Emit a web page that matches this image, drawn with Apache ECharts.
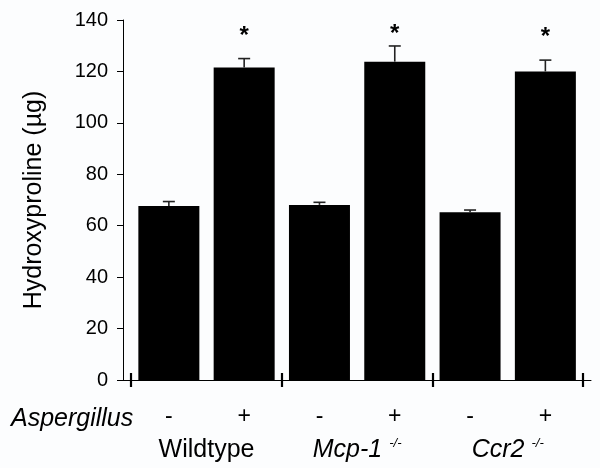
<!DOCTYPE html>
<html>
<head>
<meta charset="utf-8">
<script src="https://cdn.jsdelivr.net/npm/echarts@6/dist/echarts.min.js"></script>
<style>
html,body{margin:0;padding:0;background:#fcfdfe;}
#chart{width:600px;height:468px;}
</style>
</head>
<body>
<div id="chart"></div>
<script>
// ---- data ----
var groups = ['Wildtype', 'Mcp-1', 'Ccr2'];
var groupItalic = [false, true, true];
var groupSuper = ['', '-/-', '-/-'];
var treatments = ['-', '+'];
var barPositions = [0.5, 1.5, 2.5, 3.5, 4.5, 5.5];
var means = [67.7, 121.5, 68.1, 123.8, 65.2, 120.0];
var errors = [1.7, 3.5, 1.0, 6.1, 0.9, 4.4];
var starPositions = [1.5, 3.5, 5.5];
var starValues = [136.5, 137.3, 136.1];
var yTicks = [0, 20, 40, 60, 80, 100, 120, 140];
var groupBoundaries = [0, 2, 4, 6];
var groupCenters = [1, 3, 5];

var FONT = '"Liberation Sans", Arial, Helvetica, sans-serif';

var barData = barPositions.map(function (x, i) { return [x, means[i]]; });
var errData = barPositions.map(function (x, i) { return [x, means[i], errors[i]]; });
var starData = starPositions.map(function (x, i) { return [x, starValues[i]]; });

var chart = echarts.init(document.getElementById('chart'), null, {renderer: 'canvas'});

var xMin = -0.109, xMax = 6.106;

var option = {
  backgroundColor: '#fcfdfe',
  animation: false,
  grid: {left: 123, right: 9, top: 20, bottom: 88, containLabel: false},
  xAxis: [
    {
      type: 'value', min: xMin, max: xMax, position: 'bottom',
      splitLine: {show: false},
      axisLine: {show: true, onZero: false, lineStyle: {color: '#000', width: 1}},
      axisTick: {show: true, inside: false, length: 7, customValues: groupBoundaries,
        lineStyle: {color: '#000', width: 2.2}},
      axisLabel: {
        show: true, customValues: barPositions, margin: 25,
        fontFamily: FONT, fontSize: 23, color: '#000',
        formatter: function (v) { return treatments[Math.round(v - 0.5) % 2]; }
      }
    },
    {
      type: 'value', min: xMin, max: xMax, position: 'bottom',
      splitLine: {show: false},
      axisLine: {show: false, onZero: false},
      axisTick: {show: true, inside: true, length: 7, customValues: groupBoundaries,
        lineStyle: {color: '#000', width: 2.2}},
      axisLabel: {
        show: true, customValues: groupCenters, margin: 56,
        fontFamily: FONT, fontSize: 25, color: '#000',
        formatter: function (v) {
          var i = Math.round((v - 1) / 2);
          var name = groupItalic[i] ? '{i|' + groups[i] + '}' : '{n|' + groups[i] + '}';
          if (groupSuper[i]) name += '{s|' + groupSuper[i] + '}';
          return name;
        },
        rich: {
          n: {fontFamily: FONT, fontSize: 25, color: '#000', lineHeight: 27, verticalAlign: 'bottom'},
          i: {fontFamily: FONT, fontSize: 25, fontStyle: 'italic', color: '#000', lineHeight: 27, verticalAlign: 'bottom'},
          s: {fontFamily: FONT, fontSize: 13, fontStyle: 'italic', color: '#000', lineHeight: 13, padding: [0, 0, 13, 7], verticalAlign: 'bottom'}
        }
      }
    }
  ],
  yAxis: {
    type: 'value', min: 0, max: 140, interval: 20,
    splitLine: {show: false},
    axisLine: {show: true, onZero: false, lineStyle: {color: '#000', width: 1}},
    axisTick: {show: true, inside: false, length: 6, lineStyle: {color: '#000', width: 1}},
    axisLabel: {fontFamily: FONT, fontSize: 20, color: '#000', margin: 15},
    name: 'Hydroxyproline (\u00b5g)',
    nameLocation: 'middle', nameGap: 76,
    nameTextStyle: {fontFamily: FONT, fontSize: 25, color: '#000'}
  },
  title: {
    text: 'Aspergillus', left: 6, top: 402,
    textStyle: {fontFamily: FONT, fontSize: 25, fontStyle: 'italic', fontWeight: 'normal', color: '#000'}
  },
  series: [
    {
      type: 'bar', xAxisIndex: 0, yAxisIndex: 0,
      data: barData, barWidth: 61,
      itemStyle: {color: '#000'}
    },
    {
      type: 'custom', xAxisIndex: 0, yAxisIndex: 0,
      data: errData,
      z: 5,
      renderItem: function (params, api) {
        var x = api.value(0), m = api.value(1), e = api.value(2);
        var base = api.coord([x, m]);
        var top = api.coord([x, m + e]);
        var half = 6;
        var style = {stroke: '#222', lineWidth: 1.6};
        return {
          type: 'group',
          children: [
            {type: 'line', shape: {x1: top[0], y1: base[1], x2: top[0], y2: top[1]}, style: style},
            {type: 'line', shape: {x1: top[0] - half, y1: top[1], x2: top[0] + half, y2: top[1]}, style: style}
          ]
        };
      }
    },
    {
      type: 'custom', xAxisIndex: 0, yAxisIndex: 0,
      data: starData,
      z: 6,
      renderItem: function (params, api) {
        var p = api.coord([api.value(0), api.value(1)]);
        return {
          type: 'text',
          style: {
            text: '*', x: p[0], y: p[1] + 7,
            font: 'bold 24px ' + FONT, fill: '#000',
            align: 'center', verticalAlign: 'middle'
          }
        };
      }
    }
  ]
};
chart.setOption(option);
</script>
</body>
</html>
